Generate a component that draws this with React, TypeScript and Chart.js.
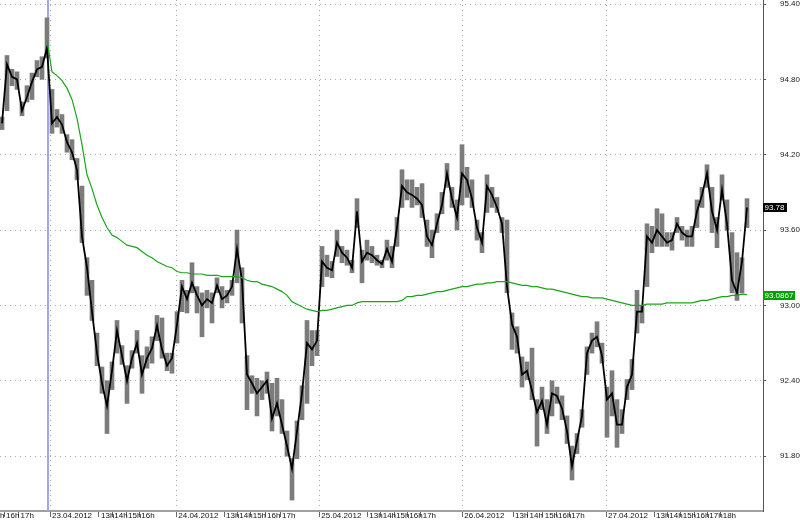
import React, { useEffect, useRef } from 'react';
import { Chart, registerables } from 'chart.js';

Chart.register(...registerables);

// Bar closes / highs / lows (one bar every step of the time index)
const closes = [
  94.45, 94.92, 94.82, 94.80, 94.55, 94.66, 94.78, 94.88, 94.90, 95.05,
  94.45, 94.50, 94.44, 94.30, 94.22, 94.08, 93.55, 93.30, 92.95, 92.62,
  92.38, 92.20, 92.48, 92.80, 92.60, 92.40, 92.58, 92.70, 92.45, 92.58,
  92.66, 92.84, 92.65, 92.52, 92.58, 92.85, 93.15, 93.05, 93.18, 93.08,
  93.00, 93.05, 93.02, 93.16, 93.05, 93.08, 93.15, 93.45, 93.20, 92.45,
  92.38, 92.30, 92.35, 92.40, 92.10, 92.22, 92.05, 91.88, 91.70, 92.00,
  92.30, 92.70, 92.65, 92.72, 93.35, 93.30, 93.28, 93.50, 93.42, 93.38,
  93.30, 93.75, 93.35, 93.42, 93.40, 93.36, 93.33, 93.45, 93.35, 93.62,
  93.95, 93.90, 93.88, 93.85, 93.80, 93.55, 93.48, 93.65, 93.80, 94.05,
  93.85, 93.70, 94.05, 94.00, 93.85, 93.62, 93.50, 93.95, 93.88, 93.78,
  93.65, 93.15, 92.85, 92.75, 92.45, 92.48, 92.32, 92.15, 92.24, 92.05,
  92.30, 92.28, 92.18, 92.00, 91.72, 91.92, 92.12, 92.62, 92.72, 92.75,
  92.60, 92.25, 92.30, 92.05, 92.05, 92.35, 92.45, 92.95, 92.95, 93.55,
  93.50, 93.60, 93.55, 93.50, 93.52, 93.65, 93.58, 93.55, 93.55, 93.75,
  93.88, 94.05, 93.75, 93.60, 93.92, 93.65, 93.20, 93.10, 93.35, 93.78,
];
const highs = [
  94.50, 94.99, 94.88, 94.86, 94.62, 94.75, 94.85, 94.95, 94.98, 95.29,
  94.72, 94.56, 94.52, 94.36, 94.32, 94.17, 93.95, 93.38, 93.20, 92.78,
  92.51, 92.40, 92.55, 92.88, 92.68, 92.52, 92.64, 92.80, 92.60, 92.67,
  92.75, 92.92, 92.90, 92.62, 92.62, 92.95, 93.20, 93.12, 93.34, 93.15,
  93.10, 93.12, 93.10, 93.22, 93.15, 93.12, 93.20, 93.60, 93.30, 92.60,
  92.44, 92.42, 92.40, 92.47, 92.38, 92.42, 92.25, 92.00, 91.78, 92.08,
  92.36, 92.88, 92.80, 92.80, 93.47, 93.40, 93.35, 93.60, 93.47, 93.44,
  93.36, 93.85, 93.44, 93.52, 93.47, 93.40, 93.36, 93.52, 93.47, 93.70,
  94.08, 94.00, 94.00, 93.94, 93.97, 93.68, 93.60, 93.73, 93.90, 94.13,
  93.94, 93.84, 94.28, 94.10, 94.00, 93.68, 93.58, 94.04, 93.94, 93.86,
  93.70, 93.68, 92.94, 92.83, 92.59, 92.55, 92.66, 92.25, 92.35, 92.25,
  92.40, 92.35, 92.28, 92.12, 91.88, 91.98, 92.17, 92.67, 92.78, 92.87,
  92.70, 92.35, 92.48, 92.25, 92.17, 92.41, 92.57, 93.12, 93.00, 93.65,
  93.63, 93.77, 93.73, 93.58, 93.58, 93.70, 93.63, 93.60, 93.63, 93.84,
  93.94, 94.12, 93.94, 93.70, 94.04, 93.84, 93.58, 93.42, 93.38, 93.85,
];
const lows = [
  94.40, 94.55, 94.75, 94.72, 94.51, 94.62, 94.64, 94.82, 94.80, 94.97,
  94.37, 94.42, 94.37, 94.22, 94.16, 94.00, 93.50, 93.08, 92.88, 92.52,
  92.30, 91.98, 92.33, 92.62, 92.53, 92.22, 92.50, 92.62, 92.30, 92.50,
  92.54, 92.72, 92.58, 92.48, 92.46, 92.70, 92.95, 92.94, 93.10, 92.94,
  92.75, 92.98, 92.86, 93.10, 92.98, 93.02, 93.08, 93.18, 92.86, 92.17,
  92.30, 92.12, 92.25, 92.30, 92.00, 92.12, 91.98, 91.80, 91.45, 91.78,
  92.09, 92.22, 92.52, 92.60, 93.15, 93.23, 93.22, 93.39, 93.34, 93.32,
  93.26, 93.62, 93.18, 93.36, 93.34, 93.32, 93.30, 93.36, 93.30, 93.47,
  93.78, 93.84, 93.78, 93.80, 93.70, 93.47, 93.38, 93.58, 93.73, 93.94,
  93.78, 93.60, 93.80, 93.86, 93.78, 93.52, 93.42, 93.74, 93.78, 93.74,
  93.58, 93.10, 92.65, 92.62, 92.35, 92.41, 92.25, 91.88, 92.17, 91.98,
  92.12, 92.22, 92.09, 91.90, 91.61, 91.82, 92.03, 92.45, 92.62, 92.67,
  92.54, 91.95, 92.12, 91.87, 91.98, 92.25, 92.33, 92.78, 92.86, 93.15,
  93.42, 93.47, 93.47, 93.47, 93.44, 93.58, 93.52, 93.47, 93.47, 93.62,
  93.78, 93.94, 93.58, 93.46, 93.84, 93.60, 93.10, 93.04, 93.10, 93.62,
];

// Moving average, starting at bar index maStart
const maStart = 9;
const maValues = [
  95.11, 94.86, 94.83, 94.79, 94.73, 94.64, 94.49, 94.28, 94.04, 93.93,
  93.80, 93.70, 93.62, 93.56, 93.54, 93.51, 93.48, 93.47, 93.46, 93.43,
  93.40, 93.38, 93.35, 93.33, 93.31, 93.30, 93.27, 93.26, 93.26, 93.25,
  93.25, 93.25, 93.24, 93.24, 93.24, 93.23, 93.23, 93.23, 93.23, 93.22,
  93.20, 93.19, 93.19, 93.17, 93.16, 93.15, 93.13, 93.11, 93.08, 93.03,
  93.01, 92.99, 92.97, 92.96, 92.95, 92.96, 92.96, 92.97, 92.98, 92.99,
  93.00, 93.00, 93.02, 93.03, 93.03, 93.03, 93.03, 93.03, 93.03, 93.03,
  93.03, 93.04, 93.07, 93.07, 93.08, 93.08, 93.09, 93.10, 93.11, 93.11,
  93.12, 93.13, 93.14, 93.15, 93.15, 93.16, 93.17, 93.17, 93.18, 93.18,
  93.19, 93.19, 93.19, 93.18, 93.17, 93.16, 93.16, 93.15, 93.15, 93.14,
  93.13, 93.13, 93.12, 93.11, 93.10, 93.09, 93.08, 93.07, 93.07, 93.06,
  93.06, 93.06, 93.05, 93.04, 93.03, 93.02, 93.01, 93.00, 93.00, 93.00,
  93.01, 93.01, 93.01, 93.01, 93.02, 93.02, 93.02, 93.02, 93.02, 93.02,
  93.03, 93.04, 93.04, 93.05, 93.06, 93.07, 93.07, 93.08, 93.08, 93.09,
  93.0867,
];

// Session separator (time index)
const sessionMarker = 9.2;

// X axis ticks (time index) and labels
const xTickValues = [
  -2.6, 0.4, 3.3,
  9.6, 19.4, 22.06, 24.8, 27.46,
  34.86, 44.4, 47.06, 49.74, 52.6, 55.6,
  63.46, 73.06, 75.74, 78.4, 81.06, 83.74,
  92.06, 102.2, 105.1, 108.14, 110.8, 113.46,
  120.8, 130.4, 133.06, 135.74, 138.4, 141.06, 143.74,
];
const xTickLabels = [
  '15h', '16h', '17h',
  '23.04.2012', '13h', '14h', '15h', '16h',
  '24.04.2012', '13h', '14h', '15h', '16h', '17h',
  '25.04.2012', '13h', '14h', '15h', '16h', '17h',
  '26.04.2012', '13h', '14h', '15h', '16h', '17h',
  '27.04.2012', '13h', '14h', '15h', '16h', '17h', '18h',
];
const xMin = -0.4;
const xMax = 152.2;

// Y axis ticks
const yTickValues = [91.8, 92.4, 93.0, 93.6, 94.2, 94.8, 95.4];
const yMin = 91.363;
const yMax = 95.432;

const FONT = '"Liberation Sans", Arial, sans-serif';
const GRID = '#a8a8a8';

export default function App() {
  const ref = useRef<HTMLCanvasElement>(null);

  useEffect(() => {
    const canvas = ref.current;
    if (!canvas) return;

    const tagPlugin = {
      id: 'priceTags',
      afterDraw(chart: any) {
        const { ctx, chartArea, scales } = chart;
        const ys = scales.y;
        const lastClose = closes[closes.length - 1];
        const lastMa = maValues[maValues.length - 1];
        const tags = [
          { v: lastClose, t: lastClose.toFixed(2), bg: '#000000' },
          { v: lastMa, t: lastMa.toFixed(4), bg: '#00a000' },
        ];
        ctx.save();
        ctx.font = `8px ${FONT}`;
        ctx.textBaseline = 'middle';
        ctx.textAlign = 'left';
        for (const tag of tags) {
          const py = Math.round(ys.getPixelForValue(tag.v));
          const w = Math.ceil(ctx.measureText(tag.t).width) + 3;
          ctx.fillStyle = tag.bg;
          ctx.fillRect(chartArea.right, py - 4, w, 9);
          ctx.fillStyle = '#ffffff';
          ctx.fillText(tag.t, chartArea.right + 1.5, py + 0.5);
        }
        ctx.restore();
      },
    };

    const chart = new Chart(canvas, {
      type: 'bar',
      data: {
        datasets: [
          {
            type: 'line',
            label: 'MA',
            data: maValues.map((v, i) => ({ x: i + maStart, y: v })),
            borderColor: '#1aa51a',
            borderWidth: 1.2,
            pointRadius: 0,
            tension: 0,
            order: 0,
          } as any,
          {
            type: 'line',
            label: 'Close',
            data: closes.map((v, i) => ({ x: i, y: v })),
            borderColor: '#000000',
            borderWidth: 1.8,
            pointRadius: 0,
            tension: 0,
            order: 1,
          } as any,
          {
            type: 'bar',
            label: 'Range',
            data: highs.map((h, i) => ({ x: i, y: [lows[i], h] })),
            backgroundColor: '#7c7c7c',
            borderWidth: 0,
            barThickness: 4,
            order: 2,
          } as any,
          {
            type: 'line',
            label: 'Separator',
            data: [
              { x: sessionMarker, y: yMin },
              { x: sessionMarker, y: yMax },
            ],
            borderColor: '#a4a4f4',
            borderWidth: 2,
            pointRadius: 0,
            order: 3,
          } as any,
        ],
      },
      options: {
        animation: false,
        responsive: false,
        layout: { padding: 0 },
        plugins: {
          legend: { display: false },
          tooltip: { enabled: false },
        },
        scales: {
          x: {
            type: 'linear',
            position: 'bottom',
            min: xMin,
            max: xMax,
            offset: false,
            afterBuildTicks: (s: any) => {
              s.ticks = xTickValues.map((v) => ({ value: v }));
            },
            afterFit: (s: any) => {
              s.height = 9;
              s.paddingLeft = 0;
              s.paddingRight = 0;
            },
            ticks: {
              autoSkip: false,
              maxRotation: 0,
              minRotation: 0,
              align: 'start',
              labelOffset: 2,
              padding: -6,
              color: '#111',
              font: { size: 8, family: FONT },
              callback: (_v: any, i: number) => xTickLabels[i],
            },
            grid: {
              offset: false,
              color: (c: any) =>
                (xTickLabels[c.index] || '').indexOf('.') >= 0 ? GRID : 'rgba(0,0,0,0)',
              lineWidth: 1,
              drawTicks: true,
              tickLength: 6,
              tickColor: '#666',
              tickWidth: 1,
            },
            border: { display: true, color: '#a0a0a0', width: 2, dash: [1, 4] },
          } as any,
          y: {
            type: 'linear',
            position: 'right',
            min: yMin,
            max: yMax,
            afterBuildTicks: (s: any) => {
              s.ticks = yTickValues.map((v) => ({ value: v }));
            },
            afterFit: (s: any) => {
              s.width = 37;
              s.paddingTop = 0;
              s.paddingBottom = 0;
            },
            ticks: {
              padding: 14,
              color: '#222',
              font: { size: 8, family: FONT },
              callback: (v: any) => Number(v).toFixed(2),
            },
            grid: {
              color: GRID,
              lineWidth: 1,
              drawTicks: true,
              tickLength: 3,
              tickColor: '#555',
            },
            border: { display: true, color: '#555', width: 1, dash: [1, 4] },
          } as any,
        },
      },
      plugins: [tagPlugin],
    } as any);

    return () => chart.destroy();
  }, []);

  return (
    <div style={{ position: 'absolute', left: 0, top: 0, width: 800, height: 520, background: '#fff' }}>
      <canvas ref={ref} width={800} height={520} style={{ display: 'block' }} />
    </div>
  );
}
